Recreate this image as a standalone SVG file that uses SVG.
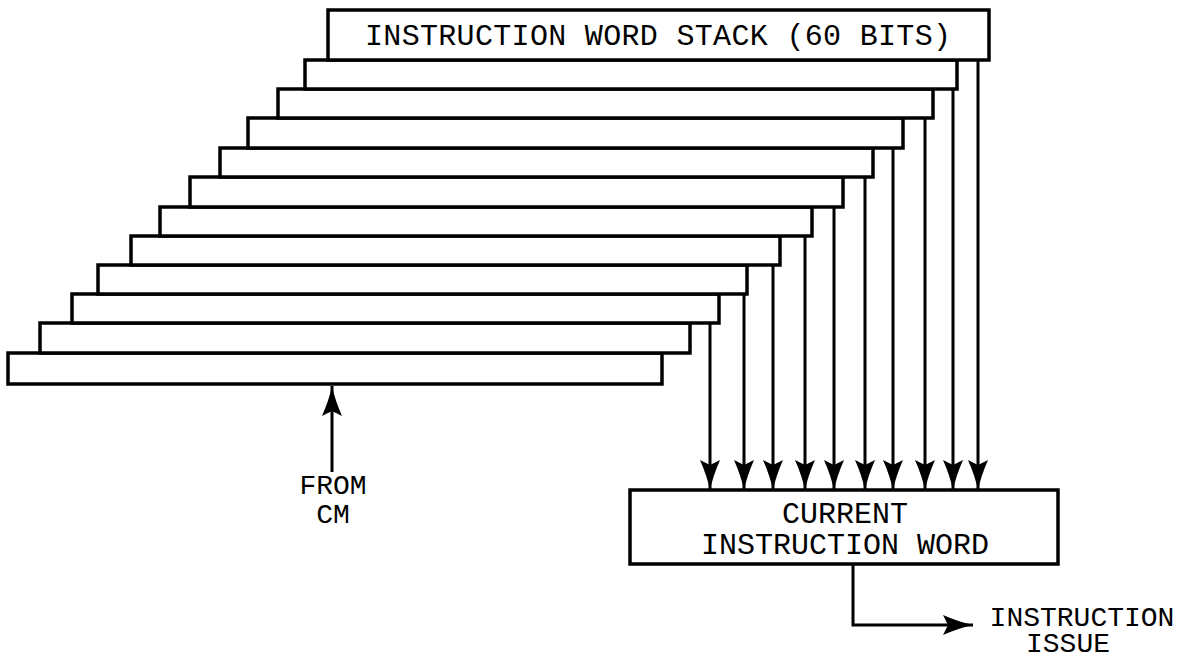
<svg xmlns="http://www.w3.org/2000/svg" width="1202" height="659" viewBox="0 0 1202 659">
<style>
.box{fill:#fff;stroke:#000;stroke-width:3.5}
.ln{fill:none;stroke:#000;stroke-width:3}
.t{font-family:"Liberation Mono","Courier New",monospace;font-size:30px;fill:#000}
.s{font-size:28px}
</style>
<defs>
<marker id="ah" markerUnits="userSpaceOnUse" markerWidth="34" markerHeight="22" refX="30" refY="10" orient="auto">
<path d="M0,0 Q16,7 30,10 Q16,13 0,20 L5,10 z" fill="#000"/>
</marker>
</defs>
<rect width="1202" height="659" fill="#fff"/>
<g id="stack">
<rect id="w12" class="box" x="8" y="353" width="654" height="31"/>
<rect id="w11" class="box" x="40" y="323" width="650" height="30"/>
<rect id="w10" class="box" x="72" y="294" width="647" height="29"/>
<rect id="w9" class="box" x="98" y="265" width="649" height="29"/>
<rect id="w8" class="box" x="131" y="236" width="649" height="29"/>
<rect id="w7" class="box" x="160" y="207" width="652" height="29"/>
<rect id="w6" class="box" x="190" y="177" width="653" height="30"/>
<rect id="w5" class="box" x="220" y="148" width="653" height="29"/>
<rect id="w4" class="box" x="248" y="118" width="655" height="30"/>
<rect id="w3" class="box" x="278" y="89" width="655" height="29"/>
<rect id="w2" class="box" x="305" y="60" width="652" height="29"/>
<g id="w1">
<rect class="box" x="328" y="10" width="661" height="50"/>
<text class="t" x="658" y="45" text-anchor="middle" textLength="586" lengthAdjust="spacing">INSTRUCTION WORD STACK (60 BITS)</text>
</g>
</g>
<g id="ciw">
<rect class="box" x="630" y="490" width="428" height="74"/>
<text class="t" x="845" y="523" text-anchor="middle">CURRENT</text>
<text class="t" x="845" y="554" text-anchor="middle">INSTRUCTION WORD</text>
</g>
<g id="from-cm">
<text class="t s" x="333" y="494" text-anchor="middle">FROM</text>
<text class="t s" x="333" y="523" text-anchor="middle">CM</text>
</g>
<g id="issue">
<text class="t s" x="1082" y="626" text-anchor="middle">INSTRUCTION</text>
<text class="t s" x="1068" y="652" text-anchor="middle">ISSUE</text>
</g>
<g id="connectors">
<line class="ln" x1="978" y1="60" x2="978" y2="490" marker-end="url(#ah)"/>
<line class="ln" x1="953" y1="89" x2="953" y2="490" marker-end="url(#ah)"/>
<line class="ln" x1="925" y1="118" x2="925" y2="490" marker-end="url(#ah)"/>
<line class="ln" x1="893" y1="148" x2="893" y2="490" marker-end="url(#ah)"/>
<line class="ln" x1="865" y1="177" x2="865" y2="490" marker-end="url(#ah)"/>
<line class="ln" x1="834" y1="207" x2="834" y2="490" marker-end="url(#ah)"/>
<line class="ln" x1="805" y1="236" x2="805" y2="490" marker-end="url(#ah)"/>
<line class="ln" x1="773" y1="265" x2="773" y2="490" marker-end="url(#ah)"/>
<line class="ln" x1="744" y1="294" x2="744" y2="490" marker-end="url(#ah)"/>
<line class="ln" x1="710" y1="323" x2="710" y2="490" marker-end="url(#ah)"/>
<line class="ln" x1="332" y1="472" x2="332" y2="386" marker-end="url(#ah)"/>
<polyline class="ln" points="853,564 853,625 973,625" marker-end="url(#ah)"/>
</g>
</svg>
